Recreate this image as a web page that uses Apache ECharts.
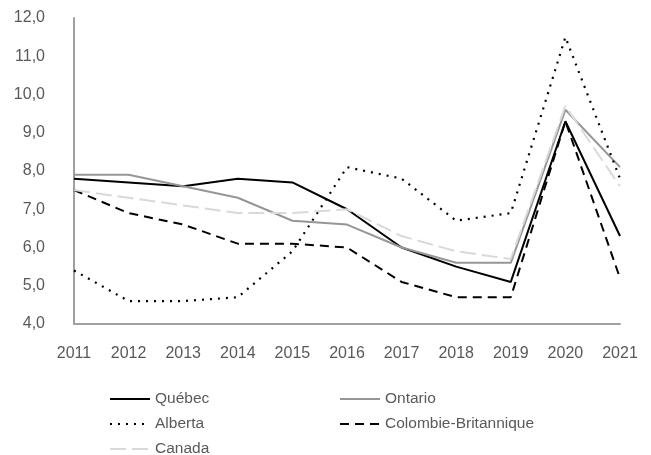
<!DOCTYPE html>
<html>
<head>
<meta charset="utf-8">
<script src="https://cdn.jsdelivr.net/npm/echarts@6/dist/echarts.min.js"></script>
<style>
  html, body { margin: 0; padding: 0; background: #ffffff; }
  #chart { width: 651px; height: 455px; }
</style>
</head>
<body>
<div id="chart"></div>
<script>
// Unemployment rate (%) by province, 2011–2021
const years = ['2011', '2012', '2013', '2014', '2015', '2016', '2017', '2018', '2019', '2020', '2021'];
const quebec = [7.8, 7.7, 7.6, 7.8, 7.7, 7.0, 6.0, 5.5, 5.1, 9.3, 6.3];
const ontario = [7.9, 7.9, 7.6, 7.3, 6.7, 6.6, 6.0, 5.6, 5.6, 9.6, 8.1];
const alberta = [5.4, 4.6, 4.6, 4.7, 5.9, 8.1, 7.8, 6.7, 6.9, 11.5, 7.8];
const colombieBritannique = [7.5, 6.9, 6.6, 6.1, 6.1, 6.0, 5.1, 4.7, 4.7, 9.3, 5.2];
const canada = [7.5, 7.3, 7.1, 6.9, 6.9, 7.0, 6.3, 5.9, 5.7, 9.7, 7.6];

const FONT = '"Liberation Sans", Arial, sans-serif';
const TEXT = '#595959';

function line(name, data, color, type, width) {
  return {
    name: name,
    type: 'line',
    data: data,
    symbol: 'none',
    smooth: false,
    lineStyle: { color: color, width: width, type: type, cap: 'butt' },
    itemStyle: { color: color },
    emphasis: { disabled: true }
  };
}

// Two vertical legend columns; the marker dot is hidden so only the line sample shows
function legendColumn(left, names) {
  return {
    orient: 'vertical',
    left: left,
    top: 389,
    height: 120,
    padding: 0,
    itemWidth: 40,
    itemHeight: 14,
    itemGap: 5,
    itemTextGap: 11,
    selectedMode: false,
    itemStyle: { opacity: 0 },
    textStyle: { fontFamily: FONT, fontSize: 15.5, color: TEXT, lineHeight: 20 },
    data: names
  };
}

const chart = echarts.init(document.getElementById('chart'), null, { renderer: 'canvas' });
chart.setOption({
  animation: false,
  backgroundColor: '#ffffff',
  grid: { left: 74, right: 31, top: 18, bottom: 131, containLabel: false },
  legend: [
    legendColumn(109, ['Québec', 'Alberta', 'Canada']),
    legendColumn(339, ['Ontario', 'Colombie-Britannique'])
  ],
  xAxis: {
    type: 'category',
    data: years,
    boundaryGap: false,
    axisLine: { lineStyle: { color: '#a0a0a0', width: 2 } },
    axisTick: { show: false },
    axisLabel: { fontFamily: FONT, fontSize: 16, color: TEXT, margin: 22 },
    splitLine: { show: false }
  },
  yAxis: {
    type: 'value',
    min: 4,
    max: 12,
    interval: 1,
    axisLine: { show: true, lineStyle: { color: '#a0a0a0', width: 2 } },
    axisTick: { show: false },
    splitLine: { show: false },
    axisLabel: {
      fontFamily: FONT, fontSize: 16, color: TEXT, margin: 29,
      padding: [4, 0, 0, 0],
      formatter: v => v.toFixed(1).replace('.', ',')
    }
  },
  series: [
    line('Québec', quebec, '#000000', 'solid', 2),
    line('Ontario', ontario, '#969696', 'solid', 2),
    line('Alberta', alberta, '#000000', [2, 6], 2.2),
    line('Colombie-Britannique', colombieBritannique, '#000000', [9, 6], 2),
    line('Canada', canada, '#d9d9d9', [16, 6], 2)
  ]
});
</script>
</body>
</html>
